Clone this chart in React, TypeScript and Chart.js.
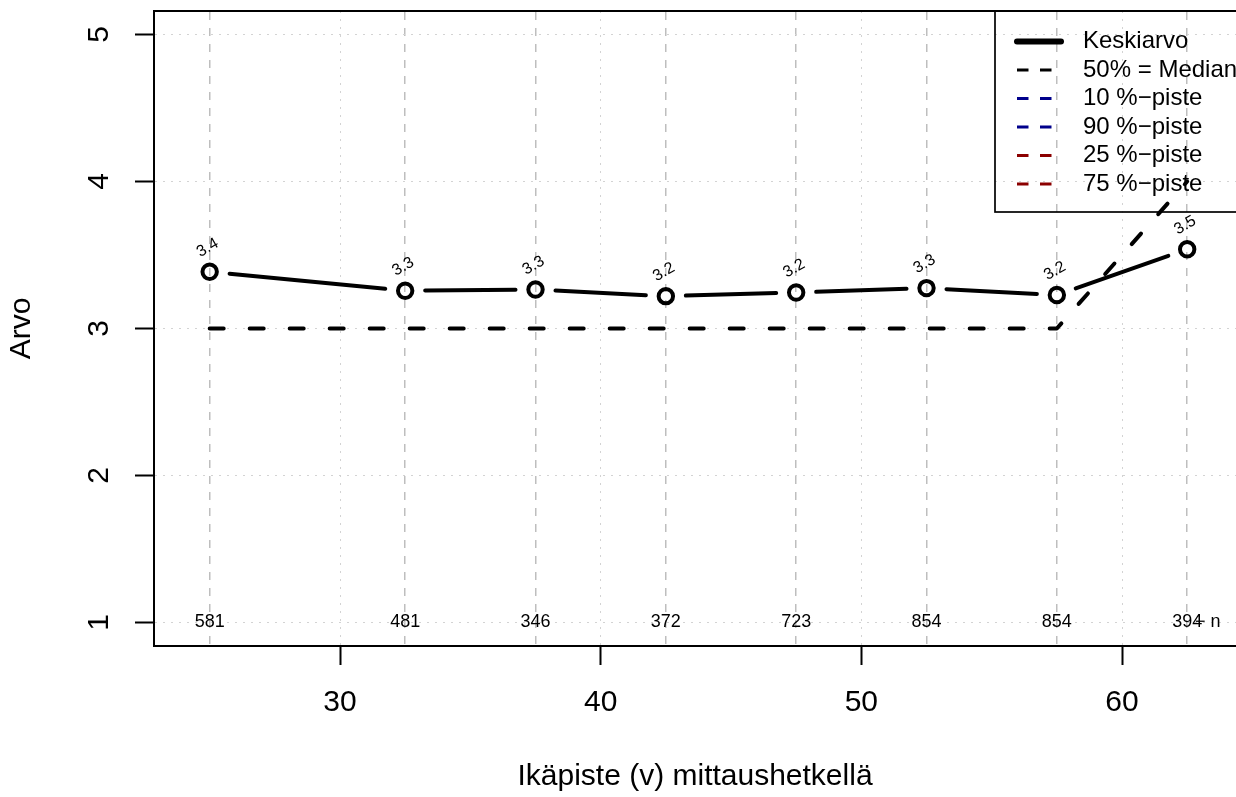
import React, { useEffect, useRef } from "react";
import { Chart, registerables } from "chart.js";

Chart.register(...registerables);

const FONT = "'Liberation Sans', Arial, Helvetica, sans-serif";

// ---- data ----
const ages = [25, 32.5, 37.5, 42.5, 47.5, 52.5, 57.5, 62.5];
const means = [3.386, 3.257, 3.265, 3.22, 3.245, 3.275, 3.228, 3.539];
const medians = [3, 3, 3, 3, 3, 3, 3, 4];
const counts = [581, 481, 346, 372, 723, 854, 854, 394];
const xTicks = [30, 40, 50, 60];
const yTicks = [1, 2, 3, 4, 5];
const legendLabels = [
  "Keskiarvo",
  "50% = Median",
  "10 %\u2212piste",
  "90 %\u2212piste",
  "25 %\u2212piste",
  "75 %\u2212piste",
];
const legendColors = ["#000000", "#000000", "#00008B", "#00008B", "#8B0000", "#8B0000"];
const legendDashed = [false, true, true, true, true, true];

const X_MIN = 22.864;
const X_MAX = 64.373;
const Y_MIN = 0.84;
const Y_MAX = 5.16;

const overlayPlugin = {
  id: "overlay",
  beforeDatasetsDraw(chart: any) {
    const meta = chart.getDatasetMeta(0);
    const ctx = chart.ctx;
    ctx.save();
    ctx.strokeStyle = "#000";
    ctx.lineWidth = 4;
    ctx.lineCap = "round";
    const g = 20;
    for (let i = 0; i < meta.data.length - 1; i++) {
      const a = meta.data[i];
      const b = meta.data[i + 1];
      const dx = b.x - a.x;
      const dy = b.y - a.y;
      const len = Math.hypot(dx, dy);
      if (len <= 2 * g) continue;
      const ux = dx / len;
      const uy = dy / len;
      ctx.beginPath();
      ctx.moveTo(a.x + ux * g, a.y + uy * g);
      ctx.lineTo(b.x - ux * g, b.y - uy * g);
      ctx.stroke();
    }
    ctx.restore();
  },
  afterDraw(chart: any) {
    const ctx = chart.ctx;
    const xs = chart.scales.x;
    const ys = chart.scales.y;
    ctx.save();
    ctx.fillStyle = "#000";

    // rotated y tick labels
    ctx.font = `30px ${FONT}`;
    ctx.textAlign = "center";
    ctx.textBaseline = "alphabetic";
    yTicks.forEach((v) => {
      const py = ys.getPixelForValue(v);
      ctx.save();
      ctx.translate(108, py);
      ctx.rotate(-Math.PI / 2);
      ctx.fillText(String(v), 0, 0);
      ctx.restore();
    });

    // value labels above mean points
    const meta = chart.getDatasetMeta(0);
    ctx.font = `16px ${FONT}`;
    ctx.textBaseline = "middle";
    meta.data.forEach((pt: any, i: number) => {
      ctx.save();
      ctx.translate(pt.x - 2, pt.y - 24);
      ctx.rotate(-Math.PI / 6);
      ctx.fillText(means[i].toFixed(1), 0, 0);
      ctx.restore();
    });

    // n labels
    ctx.font = `18px ${FONT}`;
    const ny = ys.getPixelForValue(1);
    counts.forEach((c, i) => {
      ctx.fillText(String(c), xs.getPixelForValue(ages[i]), ny);
    });
    ctx.textAlign = "left";
    ctx.fillText("\u2212 n", 1195, ny);

    // legend
    const lx = 995;
    const ly = 11;
    ctx.strokeStyle = "#000";
    ctx.lineWidth = 1.7;
    ctx.strokeRect(lx, ly, 260, 201);
    ctx.font = `24px ${FONT}`;
    ctx.textAlign = "left";
    ctx.textBaseline = "middle";
    legendLabels.forEach((lab, i) => {
      const y = 41.5 + i * 28.5;
      ctx.save();
      ctx.strokeStyle = legendColors[i];
      if (legendDashed[i]) {
        ctx.lineWidth = 3;
        ctx.lineCap = "butt";
        ctx.setLineDash([11.5, 11.5]);
        ctx.beginPath();
        ctx.moveTo(1017, y);
        ctx.lineTo(1052, y);
        ctx.stroke();
      } else {
        ctx.lineWidth = 6;
        ctx.lineCap = "round";
        ctx.beginPath();
        ctx.moveTo(1017, y);
        ctx.lineTo(1061, y);
        ctx.stroke();
      }
      ctx.restore();
      ctx.fillStyle = "#000";
      ctx.fillText(lab, 1083, y);
    });
    ctx.restore();
  },
};

export default function App() {
  const ref = useRef<HTMLCanvasElement>(null);

  useEffect(() => {
    const canvas = ref.current;
    if (!canvas) return;
    const dotted = [2, 6];
    const chart = new Chart(canvas, {
      type: "line",
      data: {
        datasets: [
          {
            label: "Keskiarvo",
            data: ages.map((a, i) => ({ x: a, y: means[i] })),
            showLine: false,
            pointRadius: 7.2,
            pointBorderWidth: 4,
            pointBorderColor: "#000",
            pointBackgroundColor: "rgba(0,0,0,0)",
            xAxisID: "x",
            yAxisID: "y",
          },
          {
            label: "50% = Median",
            data: ages.map((a, i) => ({ x: a, y: medians[i] })),
            borderColor: "#000",
            borderWidth: 4,
            borderDash: [14, 26],
            borderCapStyle: "round",
            borderJoinStyle: "round",
            pointRadius: 0,
            fill: false,
            tension: 0,
            xAxisID: "x",
            yAxisID: "y",
          },
        ],
      },
      options: {
        responsive: false,
        animation: false,
        devicePixelRatio: 1,
        events: [],
        layout: { autoPadding: false, padding: { top: 11, left: 0, right: 0, bottom: 0 } },
        plugins: {
          legend: { display: false },
          tooltip: { enabled: false },
          title: { display: false },
        },
        scales: {
          x: {
            type: "linear",
            position: "bottom",
            min: X_MIN,
            max: X_MAX,
            afterBuildTicks: (s: any) => {
              s.ticks = xTicks.map((v) => ({ value: v }));
            },
            afterFit: (s: any) => {
              s.height = 151;
              s.paddingLeft = 0;
              s.paddingRight = 0;
            },
            grid: {
              color: "#d3d3d3",
              lineWidth: 1,
              drawTicks: true,
              tickLength: 19,
              tickColor: "#000",
              tickWidth: 2,
              tickBorderDash: [],
            },
            border: { display: true, color: "#000", width: 2, dash: dotted },
            ticks: {
              font: { family: FONT, size: 30 },
              color: "#000",
              padding: 20,
              minRotation: 0,
              maxRotation: 0,
              autoSkip: false,
            },
            title: {
              display: true,
              text: "Ikäpiste (v) mittaushetkellä",
              font: { family: FONT, size: 30 },
              color: "#000",
              padding: { top: 0, bottom: 2 },
            },
          },
          x2: {
            type: "linear",
            position: "top",
            min: X_MIN,
            max: X_MAX,
            afterBuildTicks: (s: any) => {
              s.ticks = ages.map((v) => ({ value: v }));
            },
            afterFit: (s: any) => {
              s.height = 0;
              s.paddingLeft = 0;
              s.paddingRight = 0;
            },
            grid: { color: "#bebebe", lineWidth: 1.5, drawTicks: false },
            border: { display: true, color: "#000", width: 2, dash: [8, 8] },
            ticks: { display: false },
          },
          y: {
            type: "linear",
            position: "left",
            min: Y_MIN,
            max: Y_MAX,
            afterBuildTicks: (s: any) => {
              s.ticks = yTicks.map((v) => ({ value: v }));
            },
            afterFit: (s: any) => {
              s.width = 154;
              s.paddingTop = 0;
              s.paddingBottom = 0;
            },
            grid: {
              color: "#d3d3d3",
              lineWidth: 1,
              drawTicks: true,
              tickLength: 19,
              tickColor: "#000",
              tickWidth: 2,
              tickBorderDash: [],
            },
            border: { display: true, color: "#000", width: 2, dash: dotted },
            ticks: { display: false },
            title: {
              display: true,
              text: "Arvo",
              font: { family: FONT, size: 30 },
              color: "#000",
              padding: { top: 4, bottom: 0 },
            },
          },
        },
      } as any,
      plugins: [overlayPlugin],
    });
    return () => chart.destroy();
  }, []);

  return (
    <div
      style={{
        position: "fixed",
        left: 0,
        top: 0,
        width: 1236,
        height: 797,
        background: "#fff",
      }}
    >
      <canvas
        ref={ref}
        width={1236}
        height={797}
        style={{ display: "block", width: 1236, height: 797 }}
      />
    </div>
  );
}
